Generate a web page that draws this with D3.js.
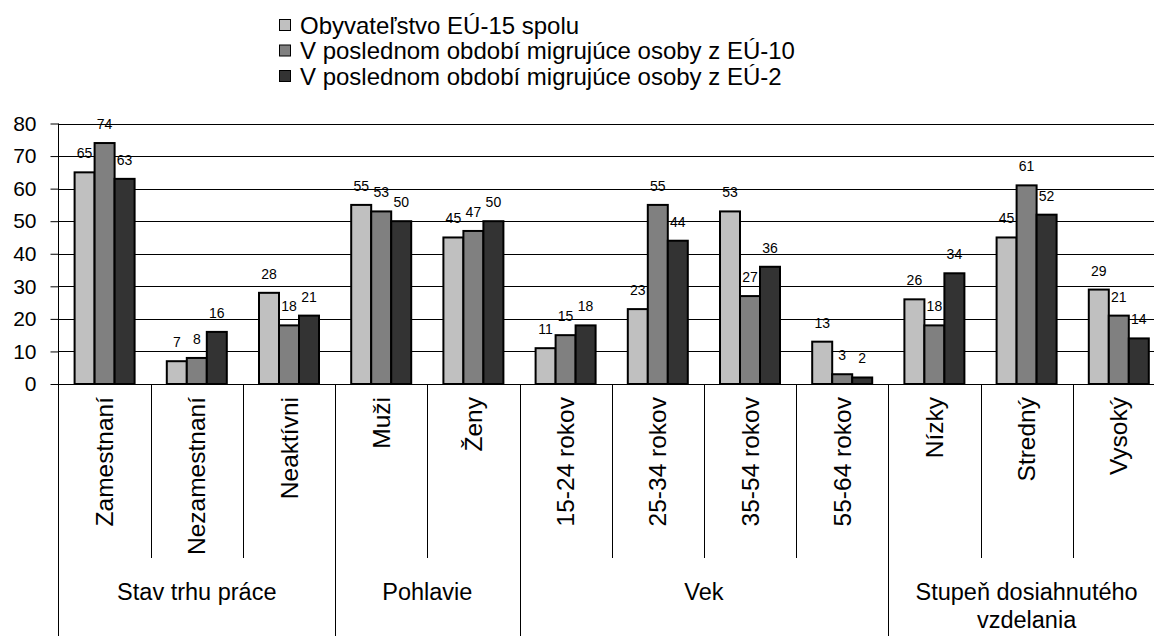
<!DOCTYPE html>
<html>
<head>
<meta charset="utf-8">
<script src="https://cdn.jsdelivr.net/npm/d3@7"></script>
<style>
  html, body { margin: 0; padding: 0; background: #fff; }
  svg { display: block; font-family: "Liberation Sans", Arial, sans-serif; }
</style>
</head>
<body>
<svg id="chart" width="1154" height="636"></svg>
<script>
const categories = ["Zamestnaní", "Nezamestnaní", "Neaktívni", "Muži", "Ženy", "15-24 rokov", "25-34 rokov", "35-54 rokov", "55-64 rokov", "Nízky", "Stredný", "Vysoký"];
const groupNames = [["Stav trhu práce"], ["Pohlavie"], ["Vek"], ["Stupeň dosiahnutého", "vzdelania"]];
const groupSizes = [3, 2, 4, 3];
const seriesNames = ["Obyvateľstvo EÚ-15 spolu", "V poslednom období migrujúce osoby z EÚ-10", "V poslednom období migrujúce osoby z EÚ-2"];
const eu15 = [65, 7, 28, 55, 45, 11, 23, 53, 13, 26, 45, 29];
const eu10 = [74, 8, 18, 53, 47, 15, 55, 27, 3, 18, 61, 21];
const eu2  = [63, 16, 21, 50, 50, 18, 44, 36, 2, 34, 52, 14];
const yTicks = [0, 10, 20, 30, 40, 50, 60, 70, 80];
const colors = ["#c0c0c0", "#808080", "#333333"];

const series = [eu15, eu10, eu2];
const svg = d3.select("#chart");

const left = 58.5, catW = 92.2, right = left + catW * categories.length;
const yTop = 123.5, yBase = 384;
const x = d3.scaleBand().domain(categories).range([left, right]).padding(0);
const y = d3.scaleLinear().domain([0, 80]).range([yBase, yTop]);
const barW = 20;
const xs = d3.scaleBand().domain([0, 1, 2]).range([0, barW * 3]).padding(0);

// gridlines
svg.append("g").selectAll("line").data(yTicks.filter(d => d > 0)).join("line")
  .attr("x1", left).attr("x2", right)
  .attr("y1", d => Math.round(y(d)) + 0.5).attr("y2", d => Math.round(y(d)) + 0.5)
  .attr("stroke", "#000").attr("stroke-width", 1);

// y axis
const yAxis = d3.axisLeft(y).tickValues(yTicks).tickSize(8).tickPadding(14);
const ya = svg.append("g").attr("transform", `translate(${left},0)`).call(yAxis);
ya.select(".domain").remove();
ya.selectAll(".tick line").attr("stroke", "#000");
ya.selectAll(".tick text").attr("font-size", 21).attr("fill", "#000")
  .attr("font-family", "Liberation Sans, Arial, sans-serif");

// bars
series.forEach((vals, si) => {
  const g = svg.append("g");
  g.selectAll("rect").data(categories).join("rect")
    .attr("x", c => x(c) + (catW - barW * 3) / 2 + xs(si))
    .attr("y", (c, i) => y(vals[i]))
    .attr("width", barW)
    .attr("height", (c, i) => yBase - y(vals[i]))
    .attr("fill", colors[si])
    .attr("stroke", "#000").attr("stroke-width", 2);
  g.selectAll("text").data(categories).join("text")
    .attr("x", c => x(c) + (catW - barW * 3) / 2 + xs(si) + barW / 2)
    .attr("y", (c, i) => y(vals[i]) - 14)
    .attr("text-anchor", "middle")
    .attr("font-size", 14).attr("fill", "#000")
    .text((c, i) => vals[i]);
});

// axes lines
svg.append("line").attr("x1", left).attr("x2", right).attr("y1", yBase + 0.5).attr("y2", yBase + 0.5)
  .attr("stroke", "#000").attr("stroke-width", 1);
svg.append("line").attr("x1", left).attr("x2", left).attr("y1", yTop).attr("y2", 636)
  .attr("stroke", "#000").attr("stroke-width", 1);

// category separators and group separators
const groupStarts = [];
let acc = 0;
groupSizes.forEach(s => { groupStarts.push(acc); acc += s; });
categories.forEach((c, i) => {
  if (i === 0) return;
  const isGroup = groupStarts.includes(i);
  svg.append("line")
    .attr("x1", Math.round(x(c)) + 0.5).attr("x2", Math.round(x(c)) + 0.5)
    .attr("y1", yBase).attr("y2", isGroup ? 636 : 558)
    .attr("stroke", "#000").attr("stroke-width", 1);
});
svg.append("line").attr("x1", Math.round(right) + 0.5).attr("x2", Math.round(right) + 0.5)
  .attr("y1", yBase).attr("y2", 636).attr("stroke", "#000");

// category labels
svg.append("g").selectAll("text").data(categories).join("text")
  .attr("transform", c => `translate(${x(c) + catW / 2},397) rotate(-90)`)
  .attr("text-anchor", "end").attr("dy", "0.35em")
  .attr("font-size", 24.5).attr("fill", "#000")
  .text(c => c);

// group labels
groupNames.forEach((lines, gi) => {
  const s = groupStarts[gi], e = s + groupSizes[gi];
  const cx = (x(categories[s]) + x(categories[e - 1]) + catW) / 2;
  const t = svg.append("text").attr("text-anchor", "middle").attr("font-size", 23.5).attr("fill", "#000");
  lines.forEach((ln, li) => {
    t.append("tspan").attr("x", cx).attr("y", 600 + li * 28).text(ln);
  });
});

// legend
const lg = svg.append("g");
seriesNames.forEach((n, i) => {
  const cy = 25 + i * 25.5;
  lg.append("rect").attr("x", 279.5).attr("y", cy - 5.5).attr("width", 11).attr("height", 11)
    .attr("fill", colors[i]).attr("stroke", "#000").attr("stroke-width", 1);
  lg.append("text").attr("x", 300).attr("y", cy).attr("dy", "0.36em")
    .attr("font-size", 24).attr("fill", "#000").text(n);
});
</script>
</body>
</html>
